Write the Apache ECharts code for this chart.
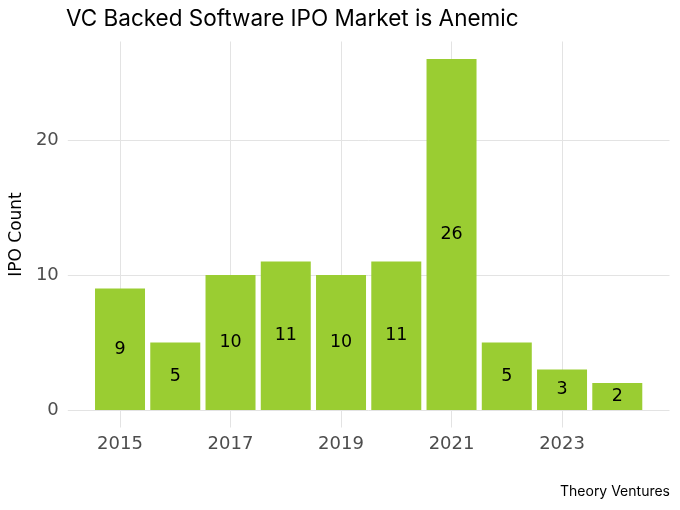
<!DOCTYPE html>
<html>
<head>
<meta charset="utf-8">
<script src="https://cdn.jsdelivr.net/npm/echarts@6/dist/echarts.min.js"></script>
<style>html,body{margin:0;padding:0;background:#fff}#c{width:680px;height:510px}</style>
</head>
<body>
<div id="c"></div>
<script>
var years = [2015, 2016, 2017, 2018, 2019, 2020, 2021, 2022, 2023, 2024];
var ipoCounts = [9, 5, 10, 11, 10, 11, 26, 5, 3, 2];
var xTicks = [2015, 2017, 2019, 2021, 2023];
var yTicks = [0, 10, 20];

var TFONT = 'Inter';
var AFONT = 'DejaVu Sans';
var chart = echarts.init(document.getElementById('c'), null, {renderer: 'canvas'});
chart.setOption({
  backgroundColor: '#ffffff',
  animation: false,
  title: [{
    text: 'VC Backed Software IPO Market is Anemic',
    left: 61, top: 3,
    textStyle: {fontFamily: TFONT, fontSize: 22.5, fontWeight: 'normal', color: '#000'}
  }, {
    text: 'Theory Ventures',
    right: 5, top: 480,
    textStyle: {fontFamily: TFONT, fontSize: 14, fontWeight: 'normal', color: '#000'}
  }],
  grid: {left: 64.5, right: 10.5, top: 41.5, bottom: 82.5, containLabel: false},
  xAxis: {
    type: 'value',
    min: 2014.055, max: 2024.945,
    axisLine: {show: false},
    axisTick: {show: false, customValues: xTicks},
    axisLabel: {customValues: xTicks, color: '#4d4d4d', fontFamily: AFONT, fontSize: 18, margin: 8,
      formatter: function (v) { return String(v); }},
    splitLine: {show: true, lineStyle: {color: '#e3e3e3', width: 1}}
  },
  yAxis: {
    type: 'value',
    min: -1.3, max: 27.3,
    name: 'IPO Count',
    nameLocation: 'middle',
    nameGap: 40,
    nameRotate: 90,
    nameTextStyle: {fontFamily: AFONT, fontSize: 17, color: '#000'},
    axisLine: {show: false},
    axisTick: {show: false, customValues: yTicks},
    axisLabel: {customValues: yTicks, color: '#4d4d4d', fontFamily: AFONT, fontSize: 18, margin: 9,
      formatter: function (v) { return String(v); }},
    splitLine: {show: true, lineStyle: {color: '#e3e3e3', width: 1}}
  },
  series: [{
    type: 'bar',
    data: years.map(function (y, i) { return [y, ipoCounts[i]]; }),
    barWidth: 50,
    itemStyle: {color: '#9acd32'},
    label: {show: true, position: 'inside', color: '#000', fontFamily: AFONT, fontSize: 17.5}
  }]
});
</script>
</body>
</html>
